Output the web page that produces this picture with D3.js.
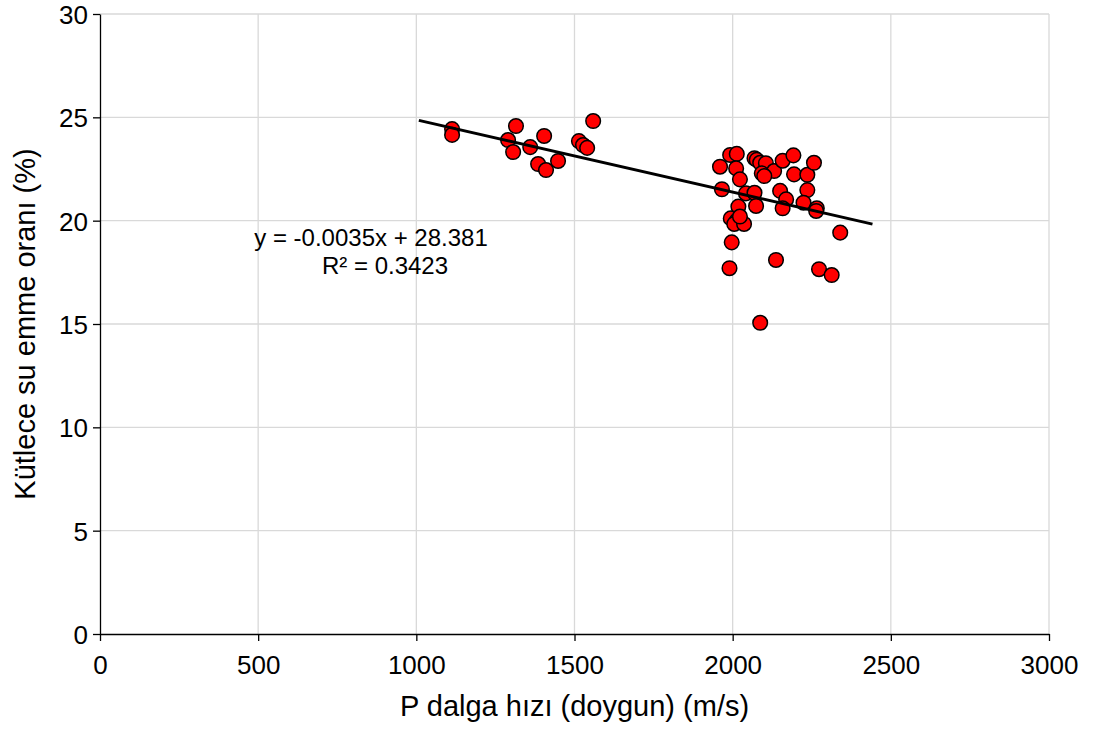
<!DOCTYPE html>
<html>
<head>
<meta charset="utf-8">
<script src="https://cdn.jsdelivr.net/npm/d3@7"></script>
<style>
  body { margin: 0; background: #fff; }
  text { font-family: "Liberation Sans", Arial, sans-serif; }
</style>
</head>
<body>
<div id="chart"></div>
<script>
const width = 1094;
const height = 731;

// P dalga hızı (m/s) ve kütlece su emme oranı (%)
const vpValues = [
  1113, 1113, 1290, 1306, 1315, 1360, 1385, 1404, 1410, 1448, 1514, 1527, 1540, 1559,
  1992, 2013, 1960, 2011, 2023, 2069, 2076, 2087, 2105, 2131, 2092, 2100, 2158, 2192,
  2194, 2236, 2257, 1966, 2042, 2069, 2150, 2169, 2236, 2224, 2266, 2264, 2074, 2018,
  2158, 1994, 2013, 2005, 2036, 2023, 2340, 1997, 2137, 1990, 2273, 2313, 2087
];
const waterValues = [
  24.43, 24.15, 23.90, 23.32, 24.58, 23.56, 22.74, 24.10, 22.45, 22.89, 23.85, 23.66, 23.52, 24.82,
  23.18, 23.23, 22.61, 22.53, 22.00, 23.02, 22.94, 22.80, 22.78, 22.40, 22.29, 22.16, 22.90, 23.16,
  22.24, 22.22, 22.80, 21.52, 21.32, 21.35, 21.44, 21.03, 21.48, 20.87, 20.60, 20.47, 20.71, 20.68,
  20.60, 20.11, 20.00, 19.84, 19.84, 20.20, 19.42, 18.95, 18.10, 17.70, 17.65, 17.37, 15.06
];

// Doğrusal eğilim çizgisi
const slope = -0.0035;
const intercept = 28.381;
const trendRange = [1008, 2442];

const xTicks = [0, 500, 1000, 1500, 2000, 2500, 3000];
const yTicks = [0, 5, 10, 15, 20, 25, 30];

const margin = {top: 14, right: 45, bottom: 97, left: 100};

const svg = d3.select("#chart").append("svg")
    .attr("width", width)
    .attr("height", height);

const x = d3.scaleLinear().domain([0, 3000]).range([margin.left, width - margin.right]);
const y = d3.scaleLinear().domain([0, 30]).range([height - margin.bottom, margin.top]);

// gridlines
svg.append("g")
    .selectAll("line")
    .data(xTicks.slice(1))
    .enter().append("line")
    .attr("x1", d => x(d)).attr("x2", d => x(d))
    .attr("y1", y(0)).attr("y2", y(30))
    .attr("stroke", "#d9d9d9")
    .attr("stroke-width", 1.3);

svg.append("g")
    .selectAll("line")
    .data(yTicks.slice(1))
    .enter().append("line")
    .attr("x1", x(0)).attr("x2", x(3000))
    .attr("y1", d => y(d)).attr("y2", d => y(d))
    .attr("stroke", "#d9d9d9")
    .attr("stroke-width", 1.3);

// axes
const xAxis = d3.axisBottom(x).tickValues(xTicks).tickFormat(d3.format("d")).tickSize(7).tickSizeOuter(0);
const yAxis = d3.axisLeft(y).tickValues(yTicks).tickFormat(d3.format("d")).tickSize(7).tickSizeOuter(0);

const gx = svg.append("g")
    .attr("transform", `translate(0,${y(0)})`)
    .call(xAxis);
const gy = svg.append("g")
    .attr("transform", `translate(${x(0)},0)`)
    .call(yAxis);

[gx, gy].forEach(g => {
    g.attr("font-size", null).attr("font-family", null);
    g.select(".domain").attr("stroke", "#000").attr("stroke-width", 1.3);
    g.selectAll(".tick line").attr("stroke", "#000").attr("stroke-width", 1.3);
    g.selectAll(".tick text")
        .attr("fill", "#000")
        .style("font-size", "26px");
});
gx.selectAll(".tick text").attr("y", 40).attr("dy", 0);
gy.selectAll(".tick text").attr("x", -12).attr("dy", "0.36em");

// points
const points = vpValues.map((v, i) => ({vp: v, w: waterValues[i]}));
svg.append("g")
    .selectAll("circle")
    .data(points)
    .enter().append("circle")
    .attr("cx", d => x(d.vp))
    .attr("cy", d => y(d.w))
    .attr("r", 7.3)
    .attr("fill", "#ff0000")
    .attr("stroke", "#000")
    .attr("stroke-width", 1.5);

// trendline
svg.append("line")
    .attr("x1", x(trendRange[0]))
    .attr("y1", y(intercept + slope * trendRange[0]))
    .attr("x2", x(trendRange[1]))
    .attr("y2", y(intercept + slope * trendRange[1]))
    .attr("stroke", "#000")
    .attr("stroke-width", 3);

// equation
const eq = svg.append("text")
    .attr("text-anchor", "middle")
    .style("font-size", "24px")
    .attr("fill", "#000");
eq.append("tspan").attr("x", 371).attr("y", 246).text("y = -0.0035x + 28.381");
eq.append("tspan").attr("x", 385).attr("y", 274).text("R² = 0.3423");

// axis titles
svg.append("text")
    .attr("x", (x(0) + x(3000)) / 2)
    .attr("y", 716)
    .attr("text-anchor", "middle")
    .style("font-size", "29px")
    .attr("fill", "#000")
    .text("P dalga hızı (doygun) (m/s)");

svg.append("text")
    .attr("transform", `translate(35,${(y(0) + y(30)) / 2}) rotate(-90)`)
    .attr("text-anchor", "middle")
    .style("font-size", "29px")
    .attr("fill", "#000")
    .text("Kütlece su emme oranı (%)");
</script>
</body>
</html>
